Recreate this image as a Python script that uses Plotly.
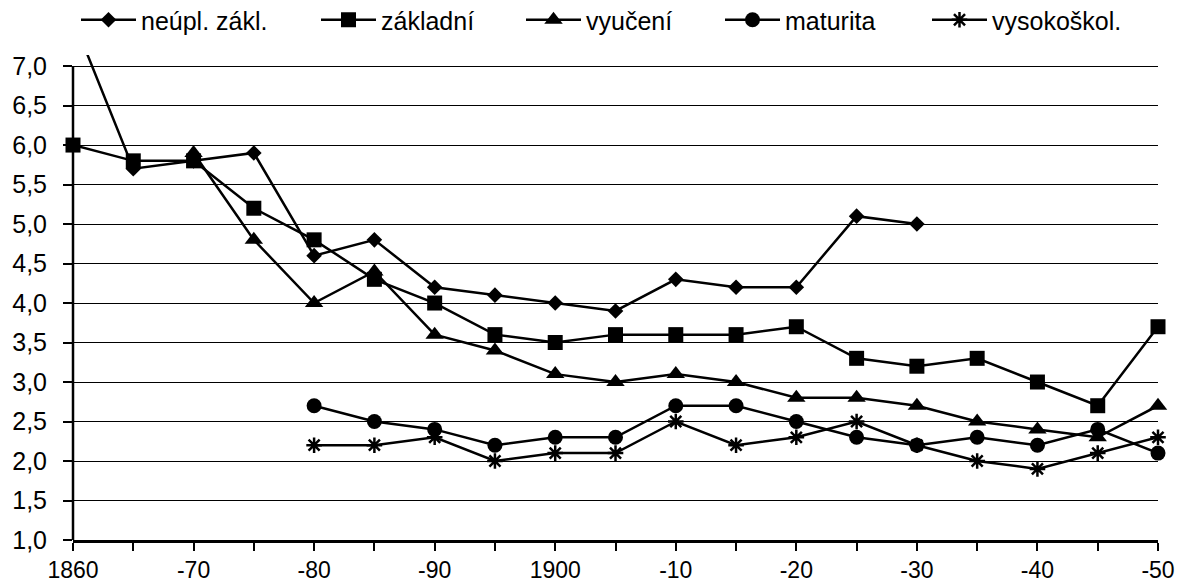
import plotly.graph_objects as go

years = list(range(1860, 1951, 5))
x_tick_labels = ["1860", "", "-70", "", "-80", "", "-90", "", "1900", "", "-10", "",
                 "-20", "", "-30", "", "-40", "", "-50"]

neupl_zakl = [7.6, 5.7, 5.8, 5.9, 4.6, 4.8, 4.2, 4.1, 4.0, 3.9, 4.3, 4.2, 4.2, 5.1, 5.0,
              None, None, None, None]
zakladni = [6.0, 5.8, 5.8, 5.2, 4.8, 4.3, 4.0, 3.6, 3.5, 3.6, 3.6, 3.6, 3.7, 3.3, 3.2,
            3.3, 3.0, 2.7, 3.7]
vyuceni = [None, None, 5.9, 4.8, 4.0, 4.4, 3.6, 3.4, 3.1, 3.0, 3.1, 3.0, 2.8, 2.8, 2.7,
           2.5, 2.4, 2.3, 2.7]
maturita = [None, None, None, None, 2.7, 2.5, 2.4, 2.2, 2.3, 2.3, 2.7, 2.7, 2.5, 2.3, 2.2,
            2.3, 2.2, 2.4, 2.1]
vysokoskol = [None, None, None, None, 2.2, 2.2, 2.3, 2.0, 2.1, 2.1, 2.5, 2.2, 2.3, 2.5, 2.2,
              2.0, 1.9, 2.1, 2.3]

series = [
    ("neúpl. zákl.", neupl_zakl, "diamond", 12, True),
    ("základní", zakladni, "square", 15, False),
    ("vyučení", vyuceni, "triangle-up", 16, False),
    ("maturita", maturita, "circle", 15, False),
    ("vysokoškol.", vysokoskol, "asterisk-open", 13, False),
]

# page body has an 8px margin; figure coords = page coords - 8
OFF = 8
W, H = 1183 - OFF, 585 - OFF
L, R, B, T = 73 - OFF, 1158 - OFF, 540 - OFF, 55 - OFF
legend_line_starts = [83, 323, 528, 727, 934]  # page px
legend_center_y = 20 - OFF

fig = go.Figure()
for i, (name, vals, sym, size, clip) in enumerate(series):
    marker = dict(symbol=sym, size=size, color="black")
    if sym.endswith("open"):
        marker["line"] = dict(color="black", width=2.5)
    fig.add_trace(go.Scatter(
        x=years, y=vals, name=name, mode="lines+markers",
        line=dict(color="black", width=2.5),
        marker=marker, cliponaxis=clip, connectgaps=False,
        legend="legend" if i == 0 else f"legend{i+1}",
    ))

font_family = "Liberation Sans, Arial, sans-serif"
layout_legends = {}
for i, xs in enumerate(legend_line_starts):
    key = "legend" if i == 0 else f"legend{i+1}"
    left = xs - 7 - OFF
    layout_legends[key] = dict(
        x=(left - L) / (R - L), xanchor="left",
        y=(B - legend_center_y) / (B - T), yanchor="middle",
        orientation="h", bgcolor="rgba(0,0,0,0)", borderwidth=0,
        font=dict(family=font_family, size=25, color="black"),
        itemwidth=55,
    )

fig.update_layout(
    width=W, height=H,
    margin=dict(l=L, r=W - R, t=T, b=H - B, pad=0, autoexpand=False),
    paper_bgcolor="white", plot_bgcolor="white",
    separators=", ",
    showlegend=True,
    font=dict(family=font_family, size=25, color="black"),
    **layout_legends,
)

fig.update_xaxes(
    range=[1860, 1950], tickvals=years, ticktext=x_tick_labels,
    showgrid=False, zeroline=False,
    showline=True, linecolor="black", linewidth=2.5,
    ticks="outside", ticklen=8, tickwidth=2, tickcolor="black",
    ticklabelstandoff=0, automargin=False,
    tickfont=dict(family=font_family, size=23, color="black"),
)
fig.update_yaxes(
    range=[1.0, 7.14], tick0=1.0, dtick=0.5, tickformat=".1f",
    showgrid=True, gridcolor="black", gridwidth=1,
    zeroline=False, showline=False,
    ticks="outside", ticklen=9, tickwidth=2, tickcolor="black",
    ticklabelstandoff=11, automargin=False,
    tickfont=dict(family=font_family, size=25, color="black"),
)
fig.add_shape(type="line", xref="paper", yref="y", x0=0, x1=0, y0=1.0, y1=7.0,
              line=dict(color="black", width=2.5), layer="above")

fig.write_html("out.html")
